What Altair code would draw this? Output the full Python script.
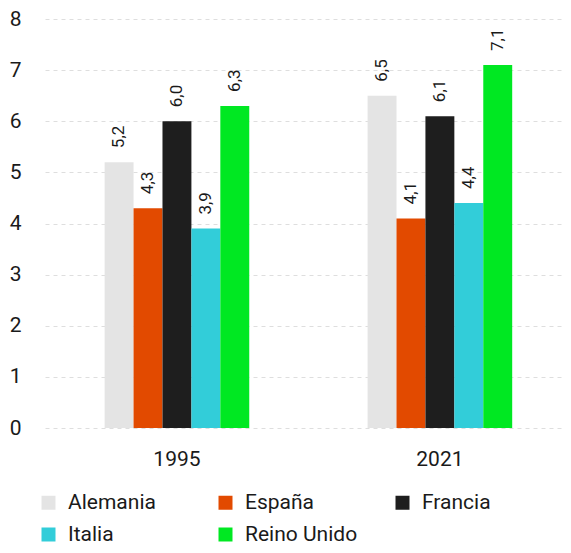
import altair as alt
import pandas as pd

years = ["1995", "2021"]
countries = ["Alemania", "España", "Francia", "Italia", "Reino Unido"]
colors = ["#e4e4e4", "#e24a00", "#1e1e1e", "#32cdd9", "#00e822"]
values_1995 = [5.2, 4.3, 6.0, 3.9, 6.3]
values_2021 = [6.5, 4.1, 6.1, 4.4, 7.1]

rows = []
for yr, vals in zip(years, [values_1995, values_2021]):
    for c, v in zip(countries, vals):
        rows.append({"year": yr, "country": c, "value": v,
                     "label": f"{v:.1f}".replace(".", ",")})
df = pd.DataFrame(rows)

FONT = "Roboto"

base = alt.Chart(df).encode(
    x=alt.X("year:N", title=None, sort=years,
            scale=alt.Scale(paddingInner=0.45, paddingOuter=0.21, align=0.54),
            axis=alt.Axis(labelAngle=0, ticks=False, domain=False,
                          labelFontSize=21, labelPadding=20, labelColor="#1a1a1a",
                          labelFont=FONT)),
    xOffset=alt.XOffset("country:N", sort=countries,
                        scale=alt.Scale(paddingInner=0, paddingOuter=0)),
    y=alt.Y("value:Q", title=None,
            scale=alt.Scale(domain=[0, 8], nice=False),
            axis=alt.Axis(values=list(range(0, 9)), ticks=False, domain=False,
                          labelFontSize=21, labelPadding=24, labelColor="#1a1a1a",
                          labelFont=FONT, grid=True, gridDash=[4, 4],
                          gridColor="#dedede", gridWidth=1)),
)

bars = base.mark_bar().encode(
    color=alt.Color("country:N", sort=countries,
                    scale=alt.Scale(domain=countries, range=colors),
                    legend=alt.Legend(title=None, orient="none", legendX=-7, legendY=473,
                                      columns=3, direction="horizontal",
                                      symbolType="square", symbolSize=196,
                                      symbolStrokeWidth=0,
                                      labelFontSize=21, labelFont=FONT,
                                      labelColor="#1a1a1a", labelOffset=9,
                                      columnPadding=34, rowPadding=10,
                                      gridAlign="all", labelLimit=300))
)

labels = base.mark_text(angle=270, align="left", baseline="middle", dx=14,
                        fontSize=17, font=FONT, color="#1a1a1a").encode(
    text="label:N"
)

chart = (bars + labels).properties(
    width=518, height=409,
    background="white",
    autosize=alt.AutoSizeParams(type="none"),
    padding={"left": 37, "top": 11, "right": 0, "bottom": 117},
).configure_view(stroke=None)

chart.save("out.html", embed_options={"renderer": "svg", "actions": False})
